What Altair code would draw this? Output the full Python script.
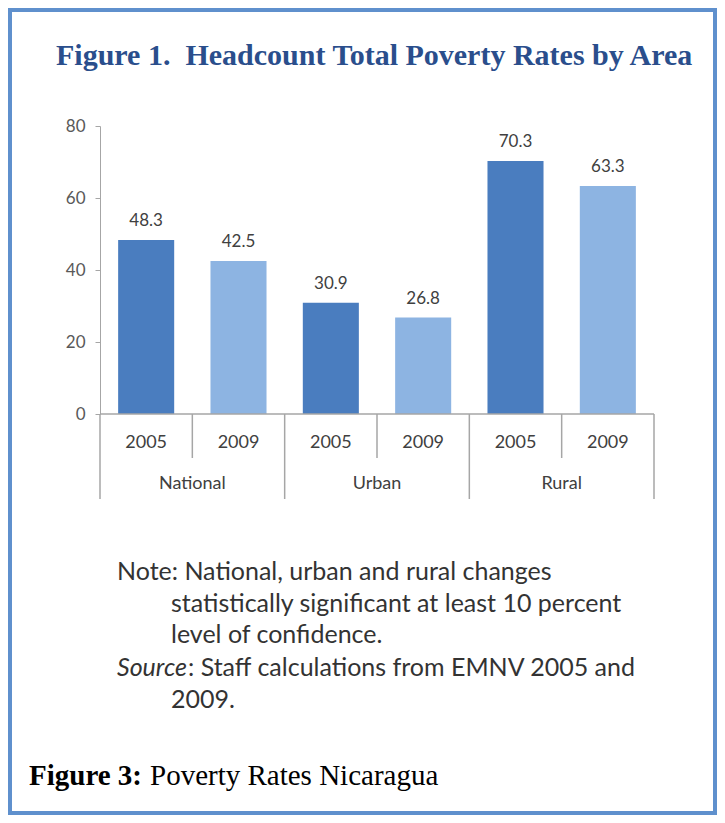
import altair as alt
import pandas as pd

# ---- data ----
areas = ["National", "Urban", "Rural"]
years = ["2005", "2009"]
area_col = ["National", "National", "Urban", "Urban", "Rural", "Rural"]
year_col = ["2005", "2009", "2005", "2009", "2005", "2009"]
rates = [48.3, 42.5, 30.9, 26.8, 70.3, 63.3]
y_ticks = [0, 20, 40, 60, 80]

title_text = "Figure 1.\u00a0 Headcount Total Poverty Rates by Area"
note_first = "Note: National, urban and rural changes"
note_rest = ["statistically significant at least 10 percent", "level of confidence."]
source_label = "Source"
source_first = ": Staff calculations from EMNV 2005 and"
source_rest = "2009."
caption_bold = "Figure 3:"
caption_text = "Poverty Rates Nicaragua"

df = pd.DataFrame({"area": area_col, "year": year_col, "rate": rates})
df_areas = pd.DataFrame({"area": areas})
df_last = pd.DataFrame({"area": [areas[-1]]})

W, H = 709, 807
SANS = "Lato"
SERIF = "Liberation Serif"
DARK = "#4a7dbf"
LIGHT = "#8db4e2"
LINE = "#a6a6a6"

xscale = alt.Scale(type="band", domain=areas, range=[92, 646], paddingInner=0, paddingOuter=0)
xoff = alt.XOffset("year:N", scale=alt.Scale(domain=years, paddingInner=0.393, paddingOuter=0.1965))
yscale = alt.Scale(domain=[0, 80], range=[406, 118])
yaxis = alt.Axis(values=y_ticks, offset=-92, grid=False, domainColor=LINE, tickColor=LINE,
                 tickSize=5, labelPadding=10, labelFont=SANS, labelFontSize=17,
                 labelColor="#595959", title="")

bars = alt.Chart(df).mark_bar().encode(
    x=alt.X("area:N", scale=xscale, axis=None),
    xOffset=xoff,
    y=alt.Y("rate:Q", scale=yscale, axis=yaxis),
    color=alt.Color("year:N", scale=alt.Scale(domain=years, range=[DARK, LIGHT]), legend=None),
)

values = alt.Chart(df).mark_text(font=SANS, fontSize=17, color="#404040", baseline="alphabetic", dy=-14).encode(
    x=alt.X("area:N", scale=xscale, axis=None),
    xOffset=xoff,
    y=alt.Y("rate:Q", scale=yscale, axis=yaxis),
    text=alt.Text("rate:Q", format=".1f"),
)

xline = alt.Chart(df_last).mark_rule(color=LINE, strokeWidth=1.5).encode(
    x=alt.value(92), x2=alt.value(646), y=alt.value(406)
)

long_sep = alt.Chart(df_areas).mark_rule(color=LINE, strokeWidth=1.5).encode(
    x=alt.X("area:N", scale=xscale, axis=None, bandPosition=0),
    y=alt.value(406), y2=alt.value(491),
)
end_sep = alt.Chart(df_last).mark_rule(color=LINE, strokeWidth=1.5).encode(
    x=alt.X("area:N", scale=xscale, axis=None, bandPosition=1),
    y=alt.value(406), y2=alt.value(491),
)
short_sep = alt.Chart(df_areas).mark_rule(color=LINE, strokeWidth=1.5).encode(
    x=alt.X("area:N", scale=xscale, axis=None, bandPosition=0.5),
    y=alt.value(406), y2=alt.value(450),
)

year_labels = alt.Chart(df).mark_text(font=SANS, fontSize=18, color="#404040", baseline="middle").encode(
    x=alt.X("area:N", scale=xscale, axis=None),
    xOffset=xoff,
    y=alt.value(435),
    text="year:N",
)
area_labels = alt.Chart(df_areas).mark_text(font=SANS, fontSize=18, color="#404040", baseline="middle").encode(
    x=alt.X("area:N", scale=xscale, axis=None),
    y=alt.value(476),
    text="area:N",
)


def text_layer(txt, x, y, font, size, color, weight="normal", style="normal", baseline="middle"):
    return alt.Chart(pd.DataFrame({"t": [txt]})).mark_text(
        font=font, fontSize=size, color=color, fontWeight=weight, fontStyle=style,
        align="left", baseline=baseline,
    ).encode(x=alt.value(x), y=alt.value(y), text="t:N")


title = text_layer(title_text, 48, 57, SERIF, 30, "#2a4e8c", weight="bold", baseline="alphabetic")
NOTE_C = "#333333"
NS = 25
n1 = text_layer(note_first, 109, 564, SANS, NS, NOTE_C)
n2 = text_layer(note_rest[0], 163, 596, SANS, NS, NOTE_C)
n3 = text_layer(note_rest[1], 163, 627, SANS, NS, NOTE_C)
s1 = text_layer(source_label, 109, 660, SANS, NS, NOTE_C, style="italic")
s2 = text_layer(source_first, 180, 660, SANS, NS, NOTE_C)
s3 = text_layer(source_rest, 163, 692, SANS, NS, NOTE_C)
c1 = text_layer(caption_bold, 21, 768, SERIF, 29, "#000000", weight="bold")
c2 = text_layer(caption_text, 142, 768, SERIF, 29, "#000000")

border = alt.Chart(df_last).mark_rect(fillOpacity=0, stroke="#5f90cd", strokeWidth=4).encode(
    x=alt.value(2), x2=alt.value(707), y=alt.value(2), y2=alt.value(805)
)

chart = alt.layer(
    border, bars, values, xline, long_sep, end_sep, short_sep, year_labels, area_labels,
    title, n1, n2, n3, s1, s2, s3, c1, c2,
).properties(
    width=W, height=H, autosize="none", padding=0, background="white"
).configure_view(strokeWidth=0)

chart.save("out.html", embed_options={"renderer": "svg", "actions": False})
